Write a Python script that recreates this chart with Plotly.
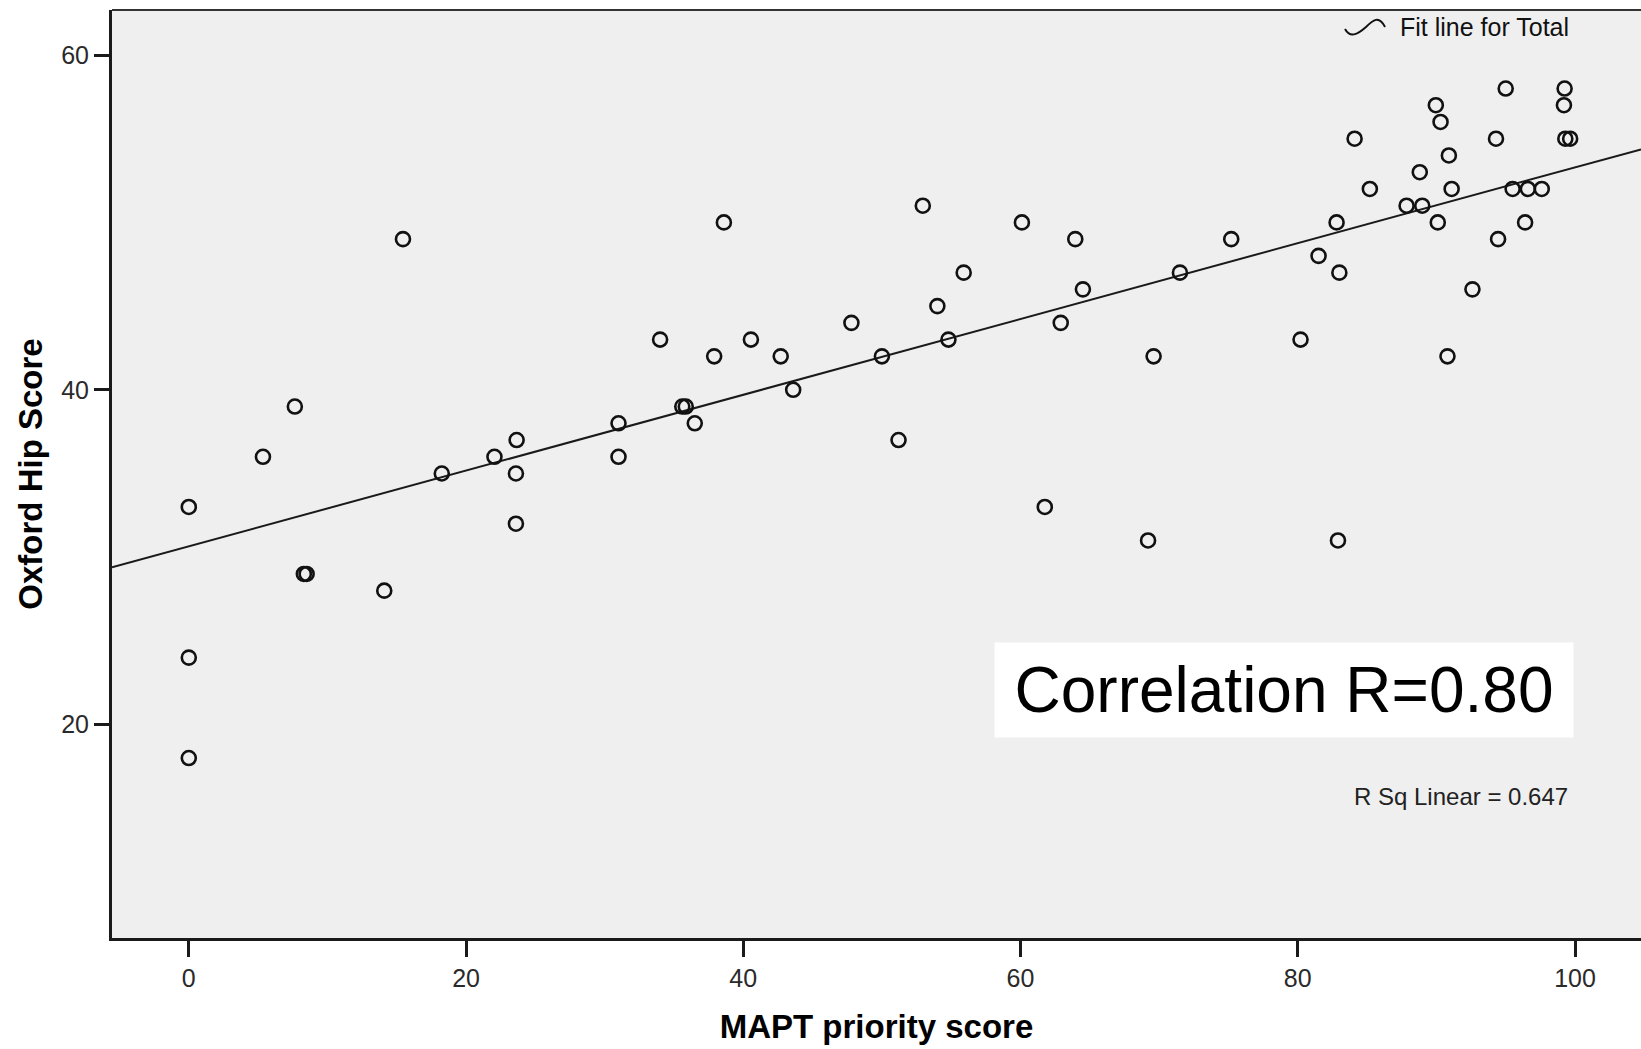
import numpy as np
import plotly.graph_objects as go

# ---- data ----
mapt_score = [
    0.0, 0.0, 0.0,
    5.35, 7.65, 8.3, 8.5, 14.1, 15.45,
    18.25, 22.05, 23.65, 23.6, 23.6,
    31.0, 31.0, 34.0, 35.6, 35.85, 36.5, 37.9, 38.6,
    40.55, 42.7, 43.6, 47.8, 50.0, 51.2, 52.95, 54.0, 54.8, 55.9,
    60.1, 61.75, 62.9, 63.95, 64.5, 69.2, 69.6, 71.5, 75.2,
    80.2, 81.5, 82.8, 83.0, 82.9, 84.1, 85.2, 87.85, 88.98, 88.8, 89.96, 90.3,
    90.9, 91.1, 90.1, 90.8, 92.6,
    94.3, 94.45, 95.0, 95.5, 96.4, 96.6, 97.6, 99.25, 99.2, 99.3, 99.65,
]
oxford_hip = [
    33, 24, 18,
    36, 39, 29, 29, 28, 49,
    35, 36, 37, 35, 32,
    38, 36, 43, 39, 39, 38, 42, 50,
    43, 42, 40, 44, 42, 37, 51, 45, 43, 47,
    50, 33, 44, 49, 46, 31, 42, 47, 49,
    43, 48, 50, 47, 31, 55, 52, 51, 51, 53, 57, 56,
    54, 52, 50, 42, 46,
    55, 49, 58, 52, 50, 52, 52, 58, 57, 55, 55,
]
x_ticks = [0, 20, 40, 60, 80, 100]
y_ticks = [20, 40, 60]
x_title = "MAPT priority score"
y_title = "Oxford Hip Score"
legend_label = "Fit line for Total"
rsq_label = "R Sq Linear = 0.647"
corr_label = "Correlation R=0.80"

# ---- layout geometry (pixels) ----
W, H = 1641, 1049
L, R, T, B = 112, 0, 10, 111
x_range = [-5.54, 104.76]
y_range = [7.25, 62.69]

def px(xp):
    return (xp - L) / (W - L - R)

def py(yp):
    return (H - B - yp) / (H - B - T)

# linear fit
slope, intercept = np.polyfit(mapt_score, oxford_hip, 1)
fit_x = np.array(x_range)
fit_y = intercept + slope * fit_x

FONT = "Liberation Sans, Arial, sans-serif"

fig = go.Figure()
fig.add_trace(go.Scatter(
    x=fit_x, y=fit_y, mode="lines",
    line=dict(color="#1a1a1a", width=2),
    showlegend=False, hoverinfo="skip",
))
fig.add_trace(go.Scatter(
    x=mapt_score, y=oxford_hip, mode="markers",
    marker=dict(symbol="circle-open", size=14, color="#111111",
                line=dict(width=2.6, color="#111111")),
    showlegend=False,
))

fig.update_layout(
    width=W, height=H,
    margin=dict(l=L, r=R, t=T, b=B, pad=0),
    paper_bgcolor="white",
    plot_bgcolor="#efefef",
    font=dict(family=FONT, color="#222222"),
    showlegend=False,
    xaxis=dict(
        range=x_range, tickvals=x_ticks, ticktext=[str(v) for v in x_ticks],
        showgrid=False, zeroline=False,
        showline=True, linecolor="#1a1a1a", linewidth=3,
        ticks="outside", ticklen=16, tickwidth=2.5, tickcolor="#1a1a1a",
        tickfont=dict(size=25, family=FONT, color="#2a2a2a"),
        title=dict(text="<b>" + x_title + "</b>", standoff=24,
                   font=dict(size=33, family=FONT, color="#000000")),
    ),
    yaxis=dict(
        range=y_range, tickvals=y_ticks, ticktext=[str(v) for v in y_ticks],
        showgrid=False, zeroline=False,
        showline=True, linecolor="#1a1a1a", linewidth=3,
        ticks="outside", ticklen=15, tickwidth=2.5, tickcolor="#1a1a1a",
        tickfont=dict(size=25, family=FONT, color="#2a2a2a"),
        title=dict(text="<b>" + y_title + "</b>", standoff=9,
                   font=dict(size=33, family=FONT, color="#000000")),
    ),
)

# top frame line
fig.add_shape(type="line", xref="paper", yref="paper",
              x0=0, x1=1, y0=1, y1=1,
              line=dict(color="#333333", width=2))

# legend wave icon
path = ("M {:.5f},{:.5f} C {:.5f},{:.5f} {:.5f},{:.5f} {:.5f},{:.5f} "
        "C {:.5f},{:.5f} {:.5f},{:.5f} {:.5f},{:.5f}").format(
    px(1345), py(29), px(1350), py(38), px(1357), py(35), px(1366), py(27),
    px(1373), py(20), px(1379), py(15), px(1385), py(27))
fig.add_shape(type="path", xref="paper", yref="paper", path=path,
              line=dict(color="#111111", width=2))

fig.add_annotation(xref="paper", yref="paper", x=px(1398), y=py(27),
                   xanchor="left", yanchor="middle", showarrow=False,
                   text=legend_label,
                   font=dict(size=25, family=FONT, color="#111111"))

fig.add_annotation(xref="paper", yref="paper", x=px(1570), y=py(796),
                   xanchor="right", yanchor="middle", showarrow=False,
                   text=rsq_label,
                   font=dict(size=24, family=FONT, color="#222222"))

fig.add_annotation(xref="paper", yref="paper", x=px(1284), y=py(690),
                   xanchor="center", yanchor="middle", showarrow=False,
                   text=corr_label, width=578, height=94,
                   bgcolor="white", borderpad=0, align="center", valign="middle",
                   font=dict(size=64, family=FONT, color="#000000"))

fig.write_html("out.html",
               config={"displayModeBar": False},
               post_script="document.body.style.margin='0';"
                           "document.body.style.overflow='hidden';")
